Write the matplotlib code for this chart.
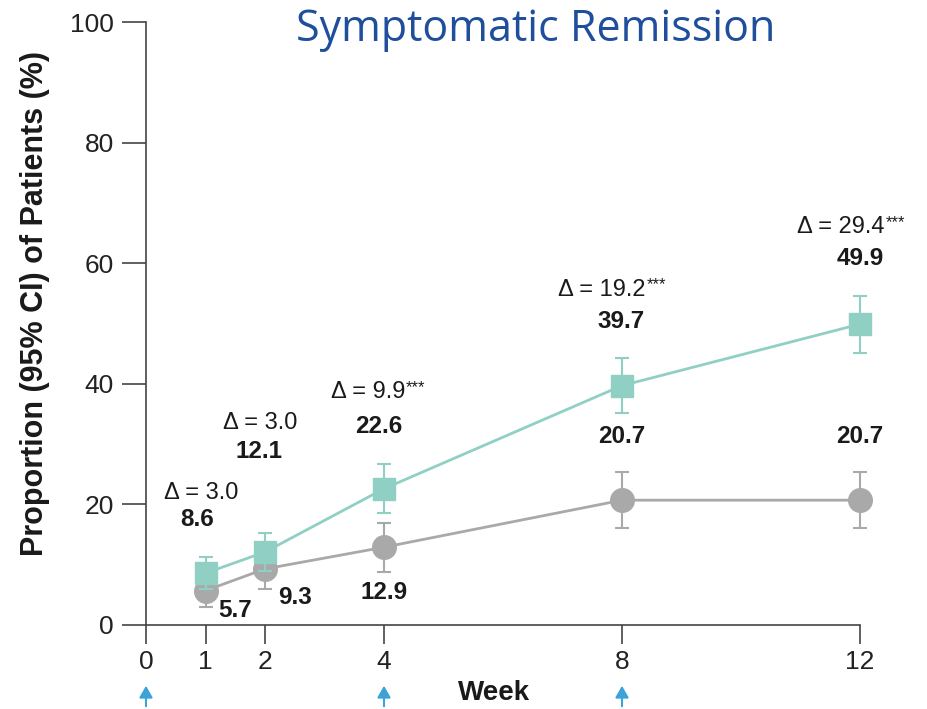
import numpy as np
import matplotlib.pyplot as plt
from matplotlib.transforms import blended_transform_factory

# weeks and response rates (%)
weeks = [1, 2, 4, 8, 12]
active = [8.6, 12.1, 22.6, 39.7, 49.9]
active_lo = [6.0, 9.0, 18.6, 35.1, 45.1]
active_hi = [11.3, 15.2, 26.7, 44.3, 54.6]
placebo = [5.7, 9.3, 12.9, 20.7, 20.7]
placebo_lo = [3.0, 6.0, 8.8, 16.1, 16.1]
placebo_hi = [8.5, 12.6, 16.9, 25.4, 25.4]
deltas = ['3.0', '3.0', '9.9', '19.2', '29.4']
signif = ['', '', '***', '***', '***']
arrow_weeks = [0, 4, 8]
xticks = [0, 1, 2, 4, 8, 12]
yticks = [0, 20, 40, 60, 80, 100]

teal = '#90d0c4'
grey = '#a9a9a9'
ink = '#1a1a1a'

plt.rcParams['font.family'] = ['Liberation Sans', 'DejaVu Sans']

fig = plt.figure(figsize=(9.27, 7.09), dpi=100)
ax = fig.add_axes([146 / 927, 1 - 625 / 709, 714 / 927, 603 / 709])


def draw_arm(y, lo, hi, color, marker, ms, z):
    cont = ax.errorbar(weeks, y,
                       yerr=[np.subtract(y, lo), np.subtract(hi, y)],
                       color=color, lw=2, marker=marker, ms=ms, capsize=5,
                       elinewidth=1.5, capthick=1.5, zorder=z)
    for art in cont.get_children():
        art.set_clip_on(False)


draw_arm(placebo, placebo_lo, placebo_hi, grey, 'o', 17, 2)
draw_arm(active, active_lo, active_hi, teal, 's', 16, 3)

# labels above the active arm (offsets in pixels)
val_off = [(-8, 54), (-6, 101), (-5, 62), (-1, 64), (0, 66)]
dlt_off = [(-4, 80), (-5, 129), (-16, 97), (-20, 96), (-19, 97)]
for w, v, d, st, vo, do in zip(weeks, active, deltas, signif, val_off, dlt_off):
    ax.annotate(f'{v:.1f}', (w, v), xytext=vo, textcoords='offset pixels',
                ha='center', va='center', fontsize=17.5, fontweight='bold',
                color=ink, annotation_clip=False)
    lab = ax.annotate('\u0394 = ' + d, (w, v), xytext=do,
                      textcoords='offset pixels', ha='center', va='center',
                      fontsize=17, color=ink, annotation_clip=False)
    if st:
        ax.annotate(st, xy=(1.0, 1.0), xycoords=lab, xytext=(1, 1),
                    textcoords='offset pixels', ha='left', va='top',
                    fontsize=12, color=ink, annotation_clip=False)

pla_off = [(30, -20), (30, -29), (0, -45), (0, 64), (0, 64)]
for w, v, (dx, dy) in zip(weeks, placebo, pla_off):
    ax.annotate(f'{v:.1f}', (w, v), xytext=(dx, dy), textcoords='offset pixels',
                ha='center', va='center', fontsize=17.5, fontweight='bold',
                color=ink, annotation_clip=False)

ax.set_xlim(0, 12)
ax.set_ylim(0, 100)
ax.set_xticks(xticks)
ax.set_yticks(yticks)
ax.tick_params(axis='both', width=1.2, colors='#444444', labelcolor='#222222',
               labelsize=19)
ax.tick_params(axis='y', length=17, pad=6)
ax.tick_params(axis='x', length=14, pad=4)
for s in ['top', 'right']:
    ax.spines[s].set_visible(False)
for s in ['left', 'bottom']:
    ax.spines[s].set_linewidth(1.2)
    ax.spines[s].set_color('#444444')

fig.text(35 / 927, 1 - 304 / 709, 'Proportion (95% CI) of Patients (%)',
         rotation=90, ha='center', va='center', fontsize=22,
         fontweight='bold', color=ink)
fig.text(494 / 927, 1 - 693 / 709, 'Week', ha='center', va='center',
         fontsize=20, fontweight='bold', color=ink)

# dosing arrows below the axis
trans = blended_transform_factory(ax.transData, fig.transFigure)
for w in arrow_weeks:
    ax.annotate('', xy=(w, 1 - 683 / 709), xytext=(w, 0.0),
                xycoords=trans, textcoords=trans, annotation_clip=False,
                arrowprops=dict(arrowstyle='-|>,head_length=0.7,head_width=0.4',
                                color='#3ba3d6', lw=1.5))

fig.text(536 / 927, 1 - 30 / 709, 'Symptomatic Remission', ha='center',
         va='center', fontsize=31, color='#1f4e9c', family='Open Sans')

fig.savefig('out.png', dpi=100)
